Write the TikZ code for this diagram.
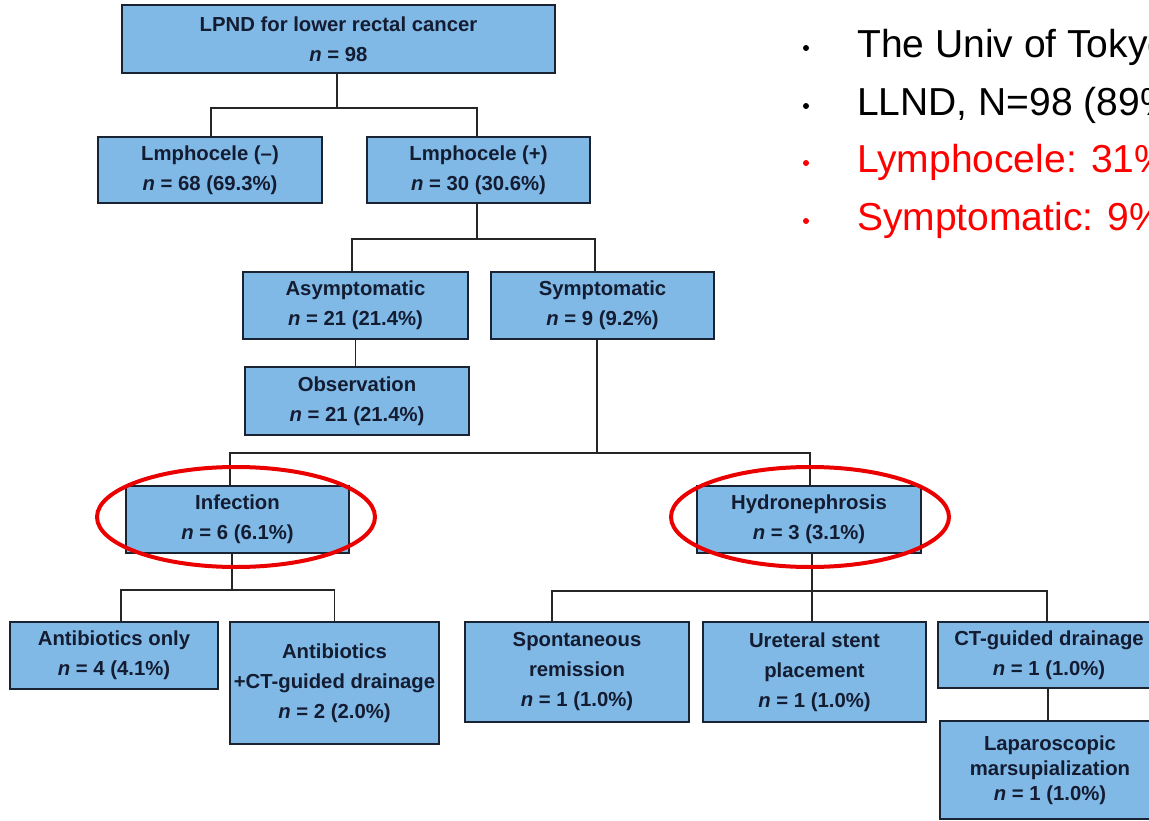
\documentclass[tikz,border=0pt]{standalone}
\usepackage{fontspec}
\setmainfont{Liberation Sans}
\definecolor{boxfill}{RGB}{128,185,230}
\definecolor{boxline}{RGB}{25,35,50}
\definecolor{boxtext}{RGB}{20,28,50}
\definecolor{ringred}{RGB}{235,0,0}
\definecolor{slidered}{RGB}{255,0,0}
\newcommand{\boxfont}{\fontsize{20.3}{30}\selectfont\bfseries}
\newcommand{\slidefont}{\fontsize{39}{47}\selectfont}

\begin{document}
\begin{tikzpicture}[x=1pt,y=1pt,yscale=-1,
	flowbox/.style={draw=boxline, fill=boxfill, line width=1.6pt, align=center, inner sep=0pt, text=boxtext, font=\boxfont},
	link/.style={draw=black!85, line width=1.6pt},
	ring/.style={draw=ringred, line width=4pt},
	slideline/.style={anchor=base west, inner sep=0pt, font=\slidefont}]
	\path[use as bounding box] (0,0) rectangle (1149,821);
	\clip (0,0) rectangle (1149,821);
	
	% Boxes
	\node [flowbox, minimum width=433, minimum height=68] (lpnd) at (338.5,39) {LPND for lower rectal cancer\\\textit{n} = 98};
	\node [flowbox, minimum width=224, minimum height=66] (lneg) at (210,170) {Lmphocele (–)\\\textit{n} = 68 (69.3\%)};
	\node [flowbox, minimum width=223, minimum height=66] (lpos) at (478.5,170) {Lmphocele (+)\\\textit{n} = 30 (30.6\%)};
	\node [flowbox, minimum width=225, minimum height=67] (asym) at (355.5,305.5) {Asymptomatic\\\textit{n} = 21 (21.4\%)};
	\node [flowbox, minimum width=223, minimum height=67] (symp) at (602.5,305.5) {Symptomatic\\\textit{n} = 9 (9.2\%)};
	\node [flowbox, minimum width=224, minimum height=68] (obs) at (357,401) {Observation\\\textit{n} = 21 (21.4\%)};
	\node [flowbox, minimum width=223, minimum height=67] (infec) at (237.5,519.5) {Infection\\\textit{n} = 6 (6.1\%)};
	\node [flowbox, minimum width=224, minimum height=67] (hydro) at (809,519.5) {Hydronephrosis\\\textit{n} = 3 (3.1\%)};
	\node [flowbox, minimum width=208, minimum height=67] (abonly) at (114,655.5) {Antibiotics only\\\textit{n} = 4 (4.1\%)};
	\node [flowbox, minimum width=209, minimum height=122] (abct) at (334.5,683) {Antibiotics\\+CT-guided drainage\\\textit{n} = 2 (2.0\%)};
	\node [flowbox, minimum width=224, minimum height=100] (spont) at (577,672) {Spontaneous\\remission\\\textit{n} = 1 (1.0\%)};
	\node [flowbox, minimum width=223, minimum height=100] (stent) at (814.5,672) {Ureteral stent\\placement\\\textit{n} = 1 (1.0\%)};
	\node [flowbox, minimum width=222, minimum height=66] (ctdr) at (1049,655) {CT-guided drainage\\\textit{n} = 1 (1.0\%)};
	\node [flowbox, minimum width=220, minimum height=98, font=\fontsize{20.3}{25}\selectfont\bfseries] (lapa) at (1050,770) {Laparoscopic\\marsupialization\\\textit{n} = 1 (1.0\%)};
	
	% Connectors
	\draw [link] ([xshift=-1.5]lpnd.south) -- ++(0,34) coordinate (j1);
	\draw [link] ([xshift=1]lneg.north) |- (j1) -| ([xshift=-1.5]lpos.north);
	\draw [link] ([xshift=-1.5]lpos.south) -- ++(0,35) coordinate (j2);
	\draw [link] ([xshift=-3.5]asym.north) |- (j2) -| ([xshift=-7.5]symp.north);
	\draw [link] (asym.south) -- (asym.south |- obs.north);
	\draw [link] ([xshift=-5.5]symp.south) -- ++(0,113) coordinate (j3);
	\draw [link] ([xshift=-7.5]infec.north) |- (j3) -| ([xshift=1]hydro.north);
	\draw [link] ([xshift=-5.5]infec.south) -- ++(0,36) coordinate (j4);
	\draw [link] ([xshift=7]abonly.north) |- (j4) -| (abct.north);
	\draw [link] ([xshift=3]hydro.south) -- ([xshift=-2.5]stent.north);
	\draw [link] ([xshift=3]hydro.south) -- ++(0,37) coordinate (j5);
	\draw [link] ([xshift=-25]spont.north) |- (j5) -| ([xshift=-2]ctdr.north);
	\draw [link] ([xshift=-1]ctdr.south) -- ([xshift=-2]lapa.north);
	
	% Red rings
	\draw [ring] (236,517) ellipse [x radius=139, y radius=50];
	\draw [ring] (810,517) ellipse [x radius=139, y radius=50];
	
	% Slide bullets
	\fill (806,48) circle (3);
	\fill (806,106) circle (3);
	\fill [slidered] (806,163) circle (3);
	\fill [slidered] (806,221) circle (3);
	\node [slideline] (univ) at (857,58) {The Univ of Tokyo};
	\node [slideline] (llnd) at (857,116) {LLND, N=98 (89\%)};
	\node [slideline, text=slidered] (lymph) at (857,173) {Lymphocele: 31\%};
	\node [slideline, text=slidered] (sympt) at (857,231) {Symptomatic: 9\%};
\end{tikzpicture}
\end{document}
